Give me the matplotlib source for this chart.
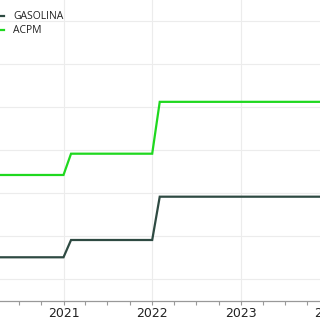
import matplotlib
matplotlib.use('Agg')
import matplotlib.pyplot as plt
import matplotlib.dates as mdates
import pandas as pd
from datetime import datetime

# step changes (monthly series, flat between steps)
fechas = ['2020-01-01', '2021-01-01', '2021-02-01', '2022-01-01', '2022-02-01', '2024-06-01']
gasolina = [8505, 8505, 8907, 8907, 9914, 9914]
acpm = [10419, 10419, 10914, 10914, 12120, 12120]
yticks = [8000, 9000, 10000, 11000, 12000, 13000, 14000]
years = ['2020', '2021', '2022', '2023', '2024']

COLORS = ('#2e4a42', '#1fd81f')

fechas = pd.to_datetime(fechas)
W, H = 320, 320

fig = plt.figure(figsize=(3.2, 3.2), dpi=100)
# chart is a crop of a wider one, so the axes run past the figure edges
L, R, B, T = -48, 368, 19, 340
ax = fig.add_axes([L/W, B/H, (R-L)/W, (T-B)/H])

ax.plot(fechas, gasolina, color=COLORS[0], lw=1.6, label='GASOLINA', solid_joinstyle='miter')
ax.plot(fechas, acpm, color=COLORS[1], lw=1.6, label='ACPM', solid_joinstyle='miter')

ax.set_xticks([datetime(int(y), 1, 1) for y in years])
ax.set_xticklabels(years)
ax.xaxis.set_minor_locator(mdates.MonthLocator(bymonth=[4, 7, 10]))
ax.set_yticks(yticks)

# x scale: 2021 at px 63.5, ~88.7 px per year
x0 = mdates.date2num(datetime(2021, 1, 1))
ppd = 88.7/365
ax.set_xlim(x0 + (L-63.5)/ppd, x0 + (R-63.5)/ppd)
# y scale: 8000 at px 279 from top, 43 px per 1000
top_px = H - T
ax.set_ylim(8000 + (279-301)/43*1000, 8000 + (279-top_px)/43*1000)

ax.tick_params(axis='y', left=False, labelleft=False)
ax.tick_params(axis='x', which='both', length=3, width=0.8, color='#999999',
               labelsize=9, pad=1.5, labelcolor='#222222')
ax.grid(True, which='major', color='#ececec', lw=0.8)
for s in ('left', 'right', 'top'):
    ax.spines[s].set_visible(False)
ax.spines['bottom'].set_color('#999999')
ax.spines['bottom'].set_linewidth(0.9)

leg = ax.legend(loc='upper left', bbox_to_anchor=(-17/W, 1 - 6/H),
                bbox_transform=fig.transFigure, frameon=False, borderpad=0,
                handlelength=1.5, handletextpad=0.9, labelspacing=0.3,
                prop={'family': 'Open Sans', 'size': 7.5})
for t in leg.get_texts():
    t.set_color('#222222')

fig.savefig('out.png', dpi=100)
